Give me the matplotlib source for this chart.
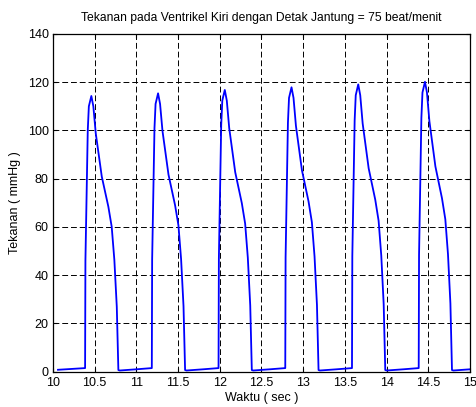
import matplotlib
matplotlib.use("Agg")
import matplotlib.pyplot as plt

plt.rcParams['font.family'] = ['Liberation Sans', 'DejaVu Sans']

# one beat every 0.8 s (75 beat/menit)
waktu = [
    10.06, 10.20,
    10.385, 10.389, 10.417, 10.430, 10.460, 10.484, 10.513, 10.585, 10.664, 10.704, 10.736, 10.765, 10.784, 10.80, 11.00,
    11.185, 11.189, 11.217, 11.230, 11.260, 11.284, 11.313, 11.385, 11.464, 11.504, 11.536, 11.565, 11.584, 11.60, 11.80,
    11.985, 11.989, 12.017, 12.030, 12.060, 12.084, 12.113, 12.185, 12.264, 12.304, 12.336, 12.365, 12.384, 12.40, 12.60,
    12.785, 12.789, 12.817, 12.830, 12.860, 12.884, 12.913, 12.985, 13.064, 13.104, 13.136, 13.165, 13.184, 13.20, 13.40,
    13.585, 13.589, 13.617, 13.630, 13.660, 13.684, 13.713, 13.785, 13.864, 13.904, 13.936, 13.965, 13.984, 14.00, 14.20,
    14.385, 14.389, 14.417, 14.430, 14.460, 14.484, 14.513, 14.585, 14.664, 14.704, 14.736, 14.765, 14.784, 14.80, 15.00,
]
tekanan = [
    0.8, 1.1,
    1.5, 46.0, 100.0, 110.0, 114.3, 110.0, 98.8, 80.9, 68.4, 60.1, 46.3, 26.9, 0.7, 0.5, 1.0,
    1.5, 46.5, 101.0, 111.0, 115.4, 111.0, 99.8, 81.7, 69.0, 60.7, 46.7, 27.2, 0.7, 0.5, 1.0,
    1.5, 47.0, 102.2, 112.4, 116.8, 112.4, 101.0, 82.7, 69.9, 61.4, 47.3, 27.5, 0.7, 0.5, 1.0,
    1.5, 47.4, 103.2, 113.5, 117.9, 113.5, 101.9, 83.5, 70.6, 62.0, 47.8, 27.7, 0.7, 0.5, 1.0,
    1.5, 47.9, 104.2, 114.6, 119.1, 114.6, 102.9, 84.3, 71.3, 62.6, 48.2, 28.0, 0.7, 0.5, 1.0,
    1.5, 48.4, 105.2, 115.7, 120.2, 115.7, 103.9, 85.1, 71.9, 63.2, 48.7, 28.3, 0.7, 0.5, 1.0,
]

xticks = [10, 10.5, 11, 11.5, 12, 12.5, 13, 13.5, 14, 14.5, 15]
xticklabels = ['10', '10.5', '11', '11.5', '12', '12.5', '13', '13.5', '14', '14.5', '15']
yticks = [0, 20, 40, 60, 80, 100, 120, 140]

fig = plt.figure(figsize=(4.76, 4.07), dpi=100)
ax = fig.add_axes([0.1113, 0.0867, 0.8761, 0.8298])

ax.plot(waktu, tekanan, color='#0000ff', linewidth=1.3)

ax.set_xlim(10, 15)
ax.set_ylim(0, 140)
ax.set_xticks(xticks)
ax.set_xticklabels(xticklabels)
ax.set_yticks(yticks)
ax.tick_params(direction='in', top=True, right=True, length=3, labelsize=9)
ax.tick_params(axis='x', pad=4)
ax.tick_params(axis='y', pad=3)
ax.grid(True, color='black', linestyle=(0, (6, 3)), linewidth=0.7)

for s in ax.spines.values():
    s.set_linewidth(0.9)

ax.set_title('Tekanan pada Ventrikel Kiri dengan Detak Jantung = 75 beat/menit', fontsize=8.7, pad=9)
ax.set_xlabel('Waktu ( sec )', fontsize=9, labelpad=2)
ax.set_ylabel('Tekanan ( mmHg )', fontsize=9, labelpad=5)

fig.savefig('out.png', dpi=100)
